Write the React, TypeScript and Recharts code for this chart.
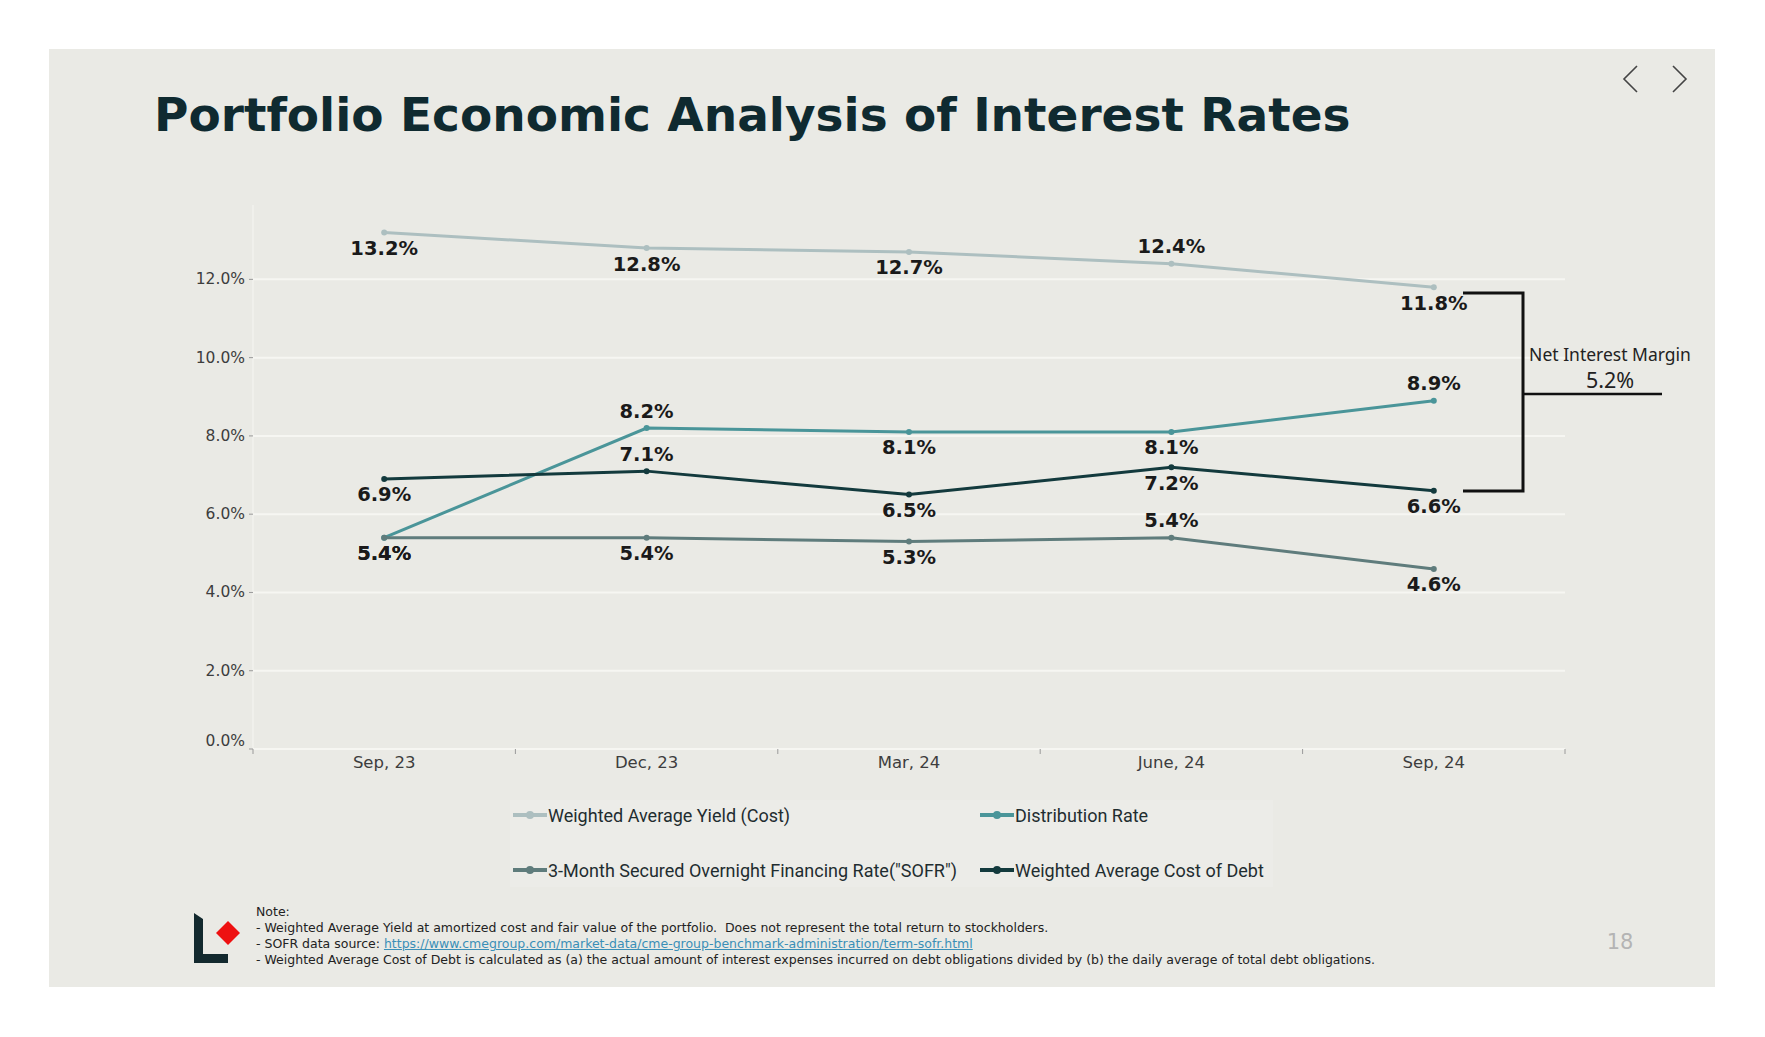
import { LineChart, Line, XAxis, YAxis, CartesianGrid, LabelList } from 'recharts';

const CATEGORIES = ['Sep, 23', 'Dec, 23', 'Mar, 24', 'June, 24', 'Sep, 24'];
const YIELD_COST = [13.2, 12.8, 12.7, 12.4, 11.8];
const DIST_RATE = [5.4, 8.2, 8.1, 8.1, 8.9];
const SOFR_RATE = [5.4, 5.4, 5.3, 5.4, 4.6];
const DEBT_COST = [6.9, 7.1, 6.5, 7.2, 6.6];
const Y_TICKS = [0, 2, 4, 6, 8, 10, 12];
const X_TICKS = [-0.5, 0, 0.5, 1, 1.5, 2, 2.5, 3, 3.5, 4, 4.5];
const NET_MARGIN = 5.2;

const SERIES = [
    { key: 'yieldCost', name: 'Weighted Average Yield (Cost)', color: '#adbfc0', above: [3] },
    { key: 'distRate', name: 'Distribution Rate', color: '#4a9599', above: [1, 4] },
    { key: 'sofr', name: '3-Month Secured Overnight Financing Rate("SOFR")', color: '#5f7c7c', above: [3] },
    { key: 'debtCost', name: 'Weighted Average Cost of Debt', color: '#133a3d', above: [1] },
];

const data = CATEGORIES.map((name, i) => ({
    idx: i, name,
    yieldCost: YIELD_COST[i], distRate: DIST_RATE[i], sofr: SOFR_RATE[i], debtCost: DEBT_COST[i],
}));

const XTick = ({ x, y, payload }: any) => {
    const v = payload.value;
    if (Number.isInteger(v)) {
        return (
            <text x={x} y={y + 14} textAnchor="middle" fontSize={16.5} fill="#3d3d3d"
                fontFamily="DejaVu Sans">{CATEGORIES[v]}</text>
        );
    }
    return <line x1={x} x2={x} y1={y - 5} y2={y} stroke="#9a9a9a" strokeWidth={1} />;
};

const YTick = ({ x, y, payload }: any) => (
    <text x={x} y={payload.value === 0 ? y - 8 : y} textAnchor="end" dominantBaseline="central"
        fontSize={15.5} fill="#3d3d3d" fontFamily="DejaVu Sans">{`${payload.value.toFixed(1)}%`}</text>
);

const makeLabel = (above: number[]) => (props: any) => {
    const { x, y, value, index } = props;
    const up = above.includes(index);
    return (
        <text x={x} y={up ? y - 17 : y + 16} textAnchor="middle" dominantBaseline="central"
            fontSize={19.5} fontWeight={700} fill="#1a1a1a" fontFamily="DejaVu Sans">
            {`${value.toFixed(1)}%`}
        </text>
    );
};

const LegendIcon = ({ color }: { color: string }) => (
    <svg width={34} height={10} style={{ display: 'block', marginRight: 1 }}>
        <line x1={0} x2={34} y1={5} y2={5} stroke={color} strokeWidth={4} />
        <circle cx={17} cy={5} r={4} fill={color} />
    </svg>
);

export default function App() {
    return (
        <div style={{ position: 'absolute', left: 0, top: 0, width: 1765, height: 1037, background: '#fff', overflow: 'hidden' }}>
            <div style={{ position: 'absolute', left: 49, top: 49, width: 1666, height: 938, background: '#eaeae5' }} />

            <div style={{
                position: 'absolute', left: 154, top: 85, fontFamily: 'DejaVu Sans', fontWeight: 700,
                fontSize: 47, color: '#0f2a30', whiteSpace: 'nowrap', lineHeight: '60px',
            }}>
                Portfolio Economic Analysis of Interest Rates
            </div>

            <div style={{ position: 'absolute', left: 0, top: 0 }}>
                <LineChart width={1765} height={800} data={data}
                    margin={{ top: 205, right: 200, bottom: 21, left: 173 }}>
                    <CartesianGrid horizontal vertical={false} horizontalValues={Y_TICKS.slice(1)}
                        stroke="#f6f6f2" strokeWidth={2} />
                    <XAxis dataKey="idx" type="number" domain={[-0.5, 4.5]} ticks={X_TICKS} interval={0}
                        allowDecimals tick={<XTick />} tickLine={false} tickSize={5} tickMargin={0}
                        height={30} axisLine={{ stroke: '#f6f6f2', strokeWidth: 2 }} />
                    <YAxis type="number" domain={[0, 13.9]} ticks={Y_TICKS} interval={0} width={80}
                        tickSize={4} tickMargin={4} tick={<YTick />}
                        tickLine={{ stroke: '#9a9a9a' }} axisLine={{ stroke: '#f6f6f2', strokeWidth: 1 }} />
                    {SERIES.map(s => (
                        <Line key={s.key} dataKey={s.key} name={s.name} type="linear" stroke={s.color}
                            strokeWidth={3} dot={{ r: 3, fill: s.color, stroke: s.color, strokeWidth: 0 }}
                            isAnimationActive={false}>
                            <LabelList dataKey={s.key} content={makeLabel(s.above)} />
                        </Line>
                    ))}
                </LineChart>
            </div>

            {/* net interest margin bracket */}
            <svg width={1765} height={1037} style={{ position: 'absolute', left: 0, top: 0, pointerEvents: 'none' }}>
                <polyline points="1463,293 1523,293 1523,491 1463,491" fill="none" stroke="#111" strokeWidth={3} />
                <line x1={1523} x2={1662} y1={394} y2={394} stroke="#111" strokeWidth={2.5} />
                <text x={1610} y={354} textAnchor="middle" dominantBaseline="central" fontSize={17.5}
                    fill="#222" fontFamily="Noto Sans">Net Interest Margin</text>
                <text x={1610} y={379} textAnchor="middle" dominantBaseline="central" fontSize={21.5}
                    fill="#222" fontFamily="Noto Sans">{`${NET_MARGIN.toFixed(1)}%`}</text>
                {/* nav arrows */}
                <polyline points="1637,66 1624,79 1637,92" fill="none" stroke="#444" strokeWidth={1.6} />
                <polyline points="1673,66 1686,79 1673,92" fill="none" stroke="#444" strokeWidth={1.6} />
                {/* logo */}
                <polygon points="194,913 203,919 203,954 228,954 228,963 194,963" fill="#13292e" />
                <polygon points="228,921 240,933 228,945 216,933" fill="#ee1111" />
                <text x={1620} y={942} textAnchor="middle" dominantBaseline="central" fontSize={21}
                    fill="#b4b4b4" fontFamily="DejaVu Sans">18</text>
            </svg>

            {/* legend */}
            <div style={{
                position: 'absolute', left: 510, top: 800, width: 763, height: 87,
                background: 'rgba(255,255,255,0.12)',
            }} />
            {SERIES.map((s, i) => (
                <div key={s.key} style={{
                    position: 'absolute', left: i % 2 === 0 ? 513 : 980, top: i < 2 ? 803 : 858,
                    height: 24, display: 'flex', alignItems: 'center', fontFamily: 'Roboto',
                    fontSize: 18, color: '#1f2d30', whiteSpace: 'nowrap',
                }}>
                    <LegendIcon color={s.color} />{s.name}
                </div>
            ))}

            {/* notes */}
            <div style={{
                position: 'absolute', left: 256, top: 904, fontFamily: 'DejaVu Sans', fontSize: 12.5,
                lineHeight: '16px', color: '#222', whiteSpace: 'nowrap',
            }}>
                <div>Note:</div>
                <div>- Weighted Average Yield at amortized cost and fair value of the portfolio.&nbsp; Does not represent the total return to stockholders.</div>
                <div>- SOFR data source: <span style={{ color: '#3a8fb7', textDecoration: 'underline' }}>https://www.cmegroup.com/market-data/cme-group-benchmark-administration/term-sofr.html</span></div>
                <div>- Weighted Average Cost of Debt is calculated as (a) the actual amount of interest expenses incurred on debt obligations divided by (b) the daily average of total debt obligations.</div>
            </div>
        </div>
    );
}
